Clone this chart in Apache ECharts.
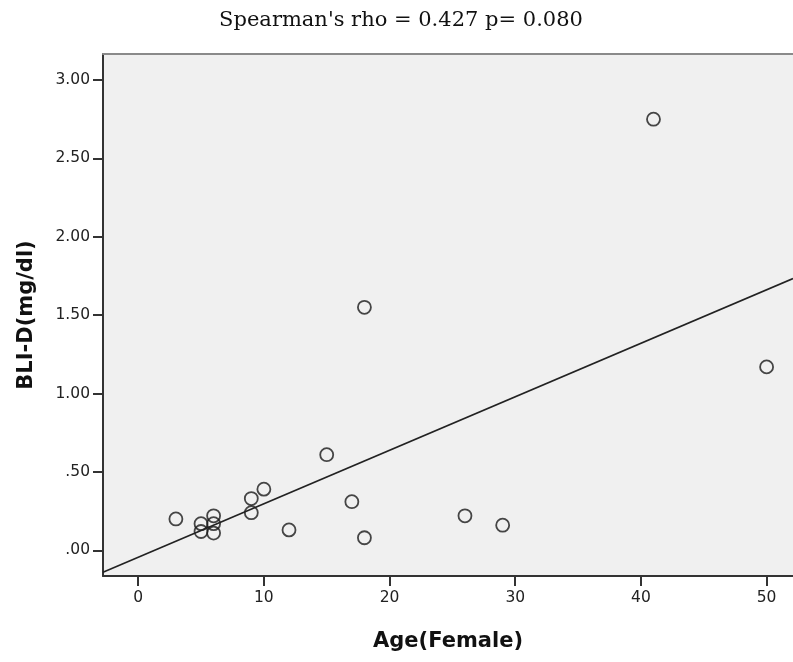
<!DOCTYPE html>
<html>
<head>
<meta charset="utf-8">
<script src="https://cdn.jsdelivr.net/npm/echarts@6/dist/echarts.min.js"></script>
<style>
  html, body { margin: 0; padding: 0; background: #fff; }
  #container { width: 793px; height: 662px; }
</style>
</head>
<body>
<div id="container"></div>
<script>
// 数据
var ages = [3, 5, 5, 6, 6, 6, 9, 9, 10, 12, 15, 17, 18, 18, 26, 29, 41, 50];
var bliD = [0.20, 0.17, 0.12, 0.22, 0.17, 0.11, 0.33, 0.24, 0.39, 0.13, 0.61, 0.31, 0.08, 1.55, 0.22, 0.16, 2.75, 1.17];
var xTicks = [0, 10, 20, 30, 40, 50];
var yTicks = [0, 0.5, 1, 1.5, 2, 2.5, 3];

var xMin = -2.8, xMax = 52.1;
var yMin = -0.164, yMax = 3.166;

// 线性回归 (fit line total)
var n = ages.length, mx = 0, my = 0;
for (var i = 0; i < n; i++) { mx += ages[i]; my += bliD[i]; }
mx /= n; my /= n;
var sxy = 0, sxx = 0;
for (var i = 0; i < n; i++) {
    sxy += (ages[i] - mx) * (bliD[i] - my);
    sxx += (ages[i] - mx) * (ages[i] - mx);
}
var slope = sxy / sxx;
var intercept = my - slope * mx;

var points = ages.map(function (a, i) { return [a, bliD[i]]; });

var labelFont = {
    fontFamily: 'DejaVu Sans',
    fontSize: 15.5,
    color: '#222'
};
var nameFont = {
    fontFamily: 'DejaVu Sans',
    fontWeight: 'bold',
    fontSize: 21,
    color: '#111'
};

var option = {
    animation: false,
    title: {
        text: "Spearman's rho = 0.427 p= 0.080",
        left: 396,
        textAlign: 'center',
        top: 5,
        textStyle: {
            fontFamily: 'DejaVu Serif',
            fontWeight: 'normal',
            fontSize: 21,
            color: '#111'
        }
    },
    grid: {
        left: 103,
        right: 0,
        top: 54,
        bottom: 86,
        show: true,
        backgroundColor: '#f0f0f0',
        borderWidth: 0
    },
    xAxis: [{
        type: 'value',
        min: xMin,
        max: xMax,
        name: 'Age(Female)',
        nameLocation: 'middle',
        nameGap: 55,
        nameTextStyle: nameFont,
        splitLine: { show: false },
        axisLine: { show: true, onZero: false, lineStyle: { color: '#333', width: 2 } },
        axisTick: {
            show: true,
            length: 10,
            customValues: xTicks,
            lineStyle: { color: '#333', width: 2 }
        },
        axisLabel: Object.assign({ customValues: xTicks, margin: 14 }, labelFont)
    }, {
        // 上边框
        type: 'value',
        position: 'top',
        min: xMin,
        max: xMax,
        splitLine: { show: false },
        axisLine: { show: true, onZero: false, lineStyle: { color: '#8a8a8a', width: 2 } },
        axisTick: { show: false },
        axisLabel: { show: false }
    }],
    yAxis: {
        type: 'value',
        min: yMin,
        max: yMax,
        name: 'BLI-D(mg/dl)',
        nameLocation: 'middle',
        nameGap: 66,
        nameTextStyle: nameFont,
        splitLine: { show: false },
        axisLine: { show: true, onZero: false, lineStyle: { color: '#333', width: 2 } },
        axisTick: {
            show: true,
            length: 10,
            customValues: yTicks,
            lineStyle: { color: '#333', width: 2 }
        },
        axisLabel: Object.assign({
            customValues: yTicks,
            margin: 13,
            formatter: function (v) {
                return v.toFixed(2).replace(/^0/, '');
            }
        }, labelFont)
    },
    series: [{
        name: 'fit',
        type: 'line',
        silent: true,
        showSymbol: false,
        clip: true,
        data: [[xMin, intercept + slope * xMin], [xMax, intercept + slope * xMax]],
        lineStyle: { color: '#222', width: 1.6 }
    }, {
        name: 'BLI-D',
        type: 'scatter',
        symbol: 'circle',
        symbolSize: 13,
        data: points,
        itemStyle: {
            color: 'rgba(0,0,0,0)',
            borderColor: '#1a1a1a',
            borderWidth: 1.8
        }
    }]
};

var chart = echarts.init(document.getElementById('container'));
chart.setOption(option);
</script>
</body>
</html>
